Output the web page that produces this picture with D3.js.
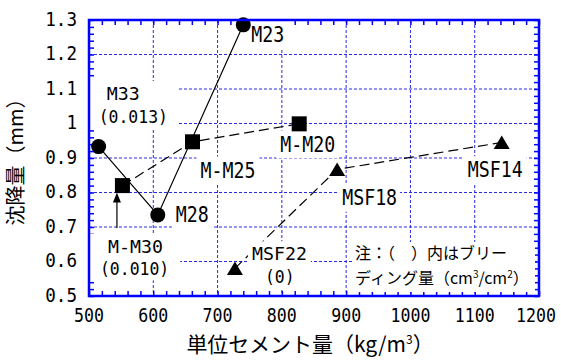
<!DOCTYPE html>
<html><head><meta charset="utf-8">
<script src="https://cdn.jsdelivr.net/npm/d3@7"></script>
<style>body{margin:0;background:#fff}</style>
</head><body><svg id="c" width="561" height="361"></svg>
<script>
// ---- data ----
const xTickValues = [500,600,700,800,900,1000,1100,1200];
const yTickValues = [0.5,0.6,0.7,0.8,0.9,1.0,1.1,1.2,1.3];
const yTickLabels = ["0.5","0.6","0.7","0.8","0.9","1","1.1","1.2","1.3"];
const mNames = ["M33","M28","M23"];
const mCement = [515,607,740];
const mSettle = [0.933,0.735,1.286];
const mmNames = ["M-M30","M-M25","M-M20"];
const mmCement = [552,661,827];
const mmSettle = [0.82,0.947,0.999];
const msfNames = ["MSF22","MSF18","MSF14"];
const msfCement = [727,886,1142];
const msfSettle = [0.58,0.867,0.945];
const bleedNames = ["M33","M-M30","MSF22"];
const bleedValues = ["(0.013)","(0.010)","(0)"];
const xTitle = "単位セメント量（kg/m";
const yTitle = "沈降量（mm）";
const noteLine1 = "注：（　）内はブリー";
const noteLine2 = "ディング量（";

// ---- layout ----
const svg = d3.select("#c");
const W = 561, H = 361;
const L = 89, R = 539, T = 20, B = 296;
const x = d3.scaleLinear([500,1200],[L,R]);
const y = d3.scaleLinear([0.5,1.3],[B,T]);
const BLUE = "#0000ff", GRID = "#2a2ae6";
const MONO = "'DejaVu Sans Mono', monospace";
const CJK = "'Noto Sans CJK JP', sans-serif";

svg.append("rect").attr("width",W).attr("height",H).attr("fill","#fff");

// gridlines
const grid = svg.append("g").attr("stroke",GRID).attr("stroke-width",1).attr("stroke-dasharray","3,2");
xTickValues.slice(1,-1).forEach(v=>{
  grid.append("line").attr("x1",x(v)).attr("x2",x(v)).attr("y1",T).attr("y2",B);
});
yTickValues.slice(1,-1).forEach(v=>{
  grid.append("line").attr("y1",y(v)).attr("y2",y(v)).attr("x1",L).attr("x2",R);
});

// minor ticks via axes (inside)
const minorX = d3.range(500,1200.1,20);
const minorY = d3.range(0.5,1.3001,0.02);
function styleAxis(g){ g.select(".domain").remove(); g.selectAll("line").attr("stroke",BLUE).attr("stroke-width",1.5); g.selectAll("text").remove(); }
svg.append("g").attr("transform",`translate(0,${B})`).call(d3.axisTop(x).tickValues(minorX).tickSize(5)).call(styleAxis);
svg.append("g").attr("transform",`translate(0,${T})`).call(d3.axisBottom(x).tickValues(minorX).tickSize(5)).call(styleAxis);
svg.append("g").attr("transform",`translate(${L},0)`).call(d3.axisRight(y).tickValues(minorY).tickSize(5)).call(styleAxis);
svg.append("g").attr("transform",`translate(${R},0)`).call(d3.axisLeft(y).tickValues(minorY).tickSize(5)).call(styleAxis);

// condensed monospaced text (horizontal scale)
function monoText(g, str, px, py, charW, size, anchor){
  const sx = charW / (0.602*size);
  return g.append("text").attr("transform",`translate(${px},${py}) scale(${sx},1)`)
    .attr("font-family",MONO).attr("font-size",size)
    .attr("text-anchor",anchor||"start").attr("fill","#000").text(str);
}
const tl = svg.append("g");
xTickValues.forEach(v=> monoText(tl, String(v), Math.min(x(v), 536), 322, 10, 20, "middle"));
yTickValues.forEach((v,i)=> monoText(tl, yTickLabels[i], 77, y(v)+5.5, 10.6, 20, "end"));

// series lines
const mk = (xs,ys,ns)=> xs.map((c,i)=>({x:c,y:ys[i],name:ns[i]}));
const sM = mk(mCement,mSettle,mNames), sMM = mk(mmCement,mmSettle,mmNames), sMSF = mk(msfCement,msfSettle,msfNames);
const line = d3.line().x(d=>x(d.x)).y(d=>y(d.y));
const lines = svg.append("g").attr("fill","none").attr("stroke","#000").attr("stroke-width",1.2);
lines.append("path").attr("d",line(sM));
lines.append("path").attr("d",line(sMM)).attr("stroke-dasharray","10,5");
lines.append("path").attr("d",line(sMSF)).attr("stroke-dasharray","10,5");

// arrow to M-M30
const mm30 = sMM[0];
const ax = x(mm30.x)-5.5, tipY = y(mm30.y)+7, baseY = y(0.7)+1;
svg.append("line").attr("x1",ax).attr("x2",ax).attr("y1",baseY).attr("y2",tipY+8).attr("stroke","#000").attr("stroke-width",1.2);
svg.append("path").attr("d",`M${ax},${tipY} L${ax+4},${tipY+10} L${ax-4},${tipY+10} Z`).attr("fill","#000");

// labels with white boxes
const labelLayout = {
  "M23":  {dx:8,  dy:17, padX:4},
  "M33":  {dx:8,  dy:-46.5, bdx:0, bdy:-23.5, padX:10},
  "M28":  {dx:18, dy:7,  padX:4},
  "M-M30":{dx:-14.5, dy:67.5, bdx:-22.5, bdy:89.5, padX:11},
  "M-M25":{dx:8,  dy:36, padX:4},
  "M-M20":{dx:-19,dy:28, padX:4},
  "MSF22":{dx:17, dy:-8, bdx:30, bdy:15, padX:4},
  "MSF18":{dx:5,  dy:36, padX:3},
  "MSF14":{dx:-34,dy:35, padX:4}
};
const labG = svg.append("g");
[...sM, ...sMM, ...sMSF].forEach(d=>{
  const lay = labelLayout[d.name];
  const px = x(d.x), py = y(d.y);
  const g = labG.append("g");
  const box = g.append("rect").attr("fill","#fff");
  const bi = bleedNames.indexOf(d.name);
  const fs = bi>=0 ? 18.5 : 21;
  const parts = [monoText(g, d.name, px+lay.dx, py+lay.dy, 11, fs)];
  if (bi>=0) parts.push(monoText(g, bleedValues[bi], px+lay.bdx, py+lay.bdy, 9.9, fs));
  let x0=Infinity,y0=Infinity,x1=-Infinity,y1=-Infinity;
  parts.forEach(t=>{
    const r = t.node().getBoundingClientRect();
    x0=Math.min(x0,r.left); y0=Math.min(y0,r.top); x1=Math.max(x1,r.right); y1=Math.max(y1,r.bottom);
  });
  box.attr("x",x0-lay.padX).attr("y",y0-2).attr("width",x1-x0+2*lay.padX).attr("height",y1-y0+3);
});

// note
const noteG = svg.append("g");
noteG.append("rect").attr("x",352).attr("y",242).attr("width",183).attr("height",50).attr("fill","#fff");
noteG.append("text").attr("x",355).attr("y",259).attr("font-family",CJK).attr("font-size",16).attr("fill","#000").text(noteLine1);
const n2 = noteG.append("text").attr("x",355).attr("y",284).attr("font-family",CJK).attr("font-size",16).attr("fill","#000");
n2.append("tspan").text(noteLine2);
n2.append("tspan").text("cm");
n2.append("tspan").attr("font-size",10).attr("dy",-6).text("3");
n2.append("tspan").attr("dy",6).text("/cm");
n2.append("tspan").attr("font-size",10).attr("dy",-6).text("2");
n2.append("tspan").attr("dy",6).text("）");

// markers
const mkG = svg.append("g").attr("fill","#000");
mkG.selectAll("circle").data(sM).join("circle").attr("cx",d=>x(d.x)).attr("cy",d=>y(d.y)).attr("r",7.5);
mkG.selectAll("rect").data(sMM).join("rect").attr("x",d=>x(d.x)-7.5).attr("y",d=>y(d.y)-7.5).attr("width",15).attr("height",15);
mkG.selectAll("path").data(sMSF).join("path").attr("d",d=>{const cx=x(d.x), cy=y(d.y); return `M${cx},${cy-7} L${cx+8},${cy+6.5} L${cx-8},${cy+6.5} Z`;});

// frame
svg.append("rect").attr("x",L).attr("y",T).attr("width",R-L).attr("height",B-T).attr("fill","none").attr("stroke",BLUE).attr("stroke-width",2.5);

// axis titles
const xt = svg.append("text").attr("x",310).attr("y",352).attr("text-anchor","middle").attr("font-family",CJK).attr("font-size",21).attr("fill","#000");
xt.append("tspan").text(xTitle);
xt.append("tspan").attr("font-size",12).attr("dy",-8).text("3");
xt.append("tspan").attr("dy",8).text("）");
svg.append("text").attr("transform","translate(23,157) rotate(-90)").attr("text-anchor","middle").attr("font-family",CJK).attr("font-size",20).attr("fill","#000").text(yTitle);
</script></body></html>
